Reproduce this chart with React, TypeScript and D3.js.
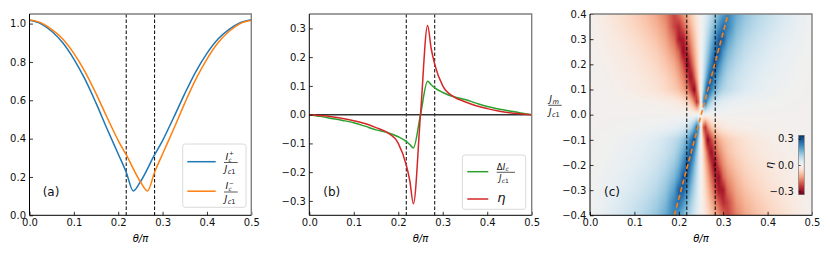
import { useEffect, useRef } from 'react';
import * as d3 from 'd3';

const FONT = '"DejaVu Sans", sans-serif';

const thetaTicks = [0, 0.1, 0.2, 0.3, 0.4, 0.5];
const markerTheta = [0.218, 0.282];

// (a) critical currents I_c^+ / J_c1 and I_c^- / J_c1
const thetaPlus = [0, 0.025, 0.05, 0.075, 0.1, 0.125, 0.15, 0.175, 0.2, 0.218, 0.234, 0.25, 0.282, 0.3, 0.325, 0.35, 0.375, 0.4, 0.425, 0.45, 0.475, 0.5];
const icPlus = [1.017, 1.0, 0.96, 0.9, 0.815, 0.71, 0.585, 0.45, 0.32, 0.225, 0.127, 0.175, 0.316, 0.39, 0.51, 0.635, 0.75, 0.845, 0.92, 0.97, 1.005, 1.02];
const thetaMinus = [0, 0.025, 0.05, 0.075, 0.1, 0.125, 0.15, 0.175, 0.2, 0.218, 0.25, 0.266, 0.282, 0.3, 0.325, 0.35, 0.375, 0.4, 0.425, 0.45, 0.475, 0.5];
const icMinus = [1.02, 1.005, 0.97, 0.92, 0.845, 0.75, 0.635, 0.51, 0.39, 0.316, 0.175, 0.127, 0.225, 0.32, 0.45, 0.585, 0.71, 0.815, 0.9, 0.96, 1.0, 1.017];

// (b) difference and efficiency
const thetaB = [0, 0.025, 0.05, 0.075, 0.1, 0.125, 0.15, 0.175, 0.2, 0.218, 0.226, 0.234, 0.25, 0.266, 0.274, 0.282, 0.3, 0.325, 0.35, 0.375, 0.4, 0.425, 0.45, 0.475, 0.5];
const deltaIc = [0, -0.006, -0.013, -0.02, -0.028, -0.04, -0.053, -0.062, -0.077, -0.093, -0.104, -0.116, 0, 0.116, 0.104, 0.093, 0.077, 0.062, 0.053, 0.04, 0.028, 0.02, 0.013, 0.006, 0];
const eta = [0, -0.003, -0.007, -0.013, -0.021, -0.031, -0.045, -0.062, -0.1, -0.175, -0.23, -0.31, 0, 0.31, 0.23, 0.175, 0.1, 0.062, 0.045, 0.031, 0.021, 0.013, 0.007, 0.003, 0];

// (c) eta map over theta (columns) and Jm/Jc1 (rows, top to bottom)
const mapTheta = [0, 0.025, 0.05, 0.075, 0.1, 0.125, 0.15, 0.17, 0.19, 0.2, 0.21, 0.22, 0.225, 0.23, 0.235, 0.24, 0.245, 0.25, 0.255, 0.26, 0.265, 0.27, 0.275, 0.28, 0.29, 0.3, 0.31, 0.33, 0.35, 0.375, 0.4, 0.425, 0.45, 0.475, 0.5];
const mapJm = [0.4, 0.35, 0.3, 0.25, 0.2, 0.15, 0.1, 0.05, 0, -0.05, -0.1, -0.15, -0.2, -0.25, -0.3, -0.35, -0.4];
const etaMap = [
  [-0.005, -0.022, -0.04, -0.058, -0.078, -0.1, -0.13, -0.17, -0.23, -0.192, -0.153, -0.115, -0.096, -0.077, -0.058, -0.038, -0.019, 0, 0.019, 0.038, 0.058, 0.077, 0.096, 0.115, 0.153, 0.192, 0.23, 0.17, 0.13, 0.1, 0.078, 0.058, 0.04, 0.022, 0.005],
  [-0.005, -0.019, -0.034, -0.05, -0.068, -0.088, -0.115, -0.15, -0.23, -0.257, -0.206, -0.154, -0.129, -0.103, -0.077, -0.051, -0.026, 0, 0.026, 0.051, 0.077, 0.103, 0.129, 0.154, 0.206, 0.257, 0.23, 0.15, 0.115, 0.088, 0.068, 0.05, 0.034, 0.019, 0.005],
  [-0.004, -0.014, -0.026, -0.039, -0.054, -0.072, -0.097, -0.13, -0.19, -0.28, -0.28, -0.2, -0.167, -0.133, -0.1, -0.067, -0.033, 0, 0.033, 0.067, 0.1, 0.133, 0.167, 0.2, 0.28, 0.28, 0.19, 0.13, 0.097, 0.072, 0.054, 0.039, 0.026, 0.014, 0.004],
  [-0.003, -0.01, -0.02, -0.031, -0.044, -0.06, -0.08, -0.11, -0.155, -0.2, -0.3, -0.248, -0.207, -0.165, -0.124, -0.083, -0.041, 0, 0.041, 0.083, 0.124, 0.165, 0.207, 0.248, 0.3, 0.2, 0.155, 0.11, 0.08, 0.06, 0.044, 0.031, 0.02, 0.01, 0.003],
  [-0.002, -0.007, -0.015, -0.024, -0.035, -0.048, -0.066, -0.09, -0.125, -0.16, -0.22, -0.31, -0.258, -0.207, -0.155, -0.103, -0.052, 0, 0.052, 0.103, 0.155, 0.207, 0.258, 0.31, 0.22, 0.16, 0.125, 0.09, 0.066, 0.048, 0.035, 0.024, 0.015, 0.007, 0.002],
  [-0.001, -0.005, -0.011, -0.018, -0.027, -0.039, -0.054, -0.072, -0.1, -0.13, -0.17, -0.23, -0.29, -0.276, -0.207, -0.138, -0.069, 0, 0.069, 0.138, 0.207, 0.276, 0.29, 0.23, 0.17, 0.13, 0.1, 0.072, 0.054, 0.039, 0.027, 0.018, 0.011, 0.005, 0.001],
  [0, -0.003, -0.007, -0.013, -0.021, -0.031, -0.045, -0.062, -0.085, -0.1, -0.13, -0.18, -0.215, -0.26, -0.31, -0.207, -0.103, 0, 0.103, 0.207, 0.31, 0.26, 0.215, 0.18, 0.13, 0.1, 0.085, 0.062, 0.045, 0.031, 0.021, 0.013, 0.007, 0.003, 0],
  [0, -0.001, -0.002, -0.004, -0.006, -0.009, -0.013, -0.018, -0.027, -0.035, -0.048, -0.07, -0.09, -0.12, -0.17, -0.25, -0.2, 0, 0.2, 0.25, 0.17, 0.12, 0.09, 0.07, 0.048, 0.035, 0.027, 0.018, 0.013, 0.009, 0.006, 0.004, 0.002, 0.001, 0],
  [0, 0, 0, 0, 0, 0, 0, 0, 0, 0, 0, 0, 0, 0, 0, 0, 0, 0, 0, 0, 0, 0, 0, 0, 0, 0, 0, 0, 0, 0, 0, 0, 0, 0, 0],
  [0, 0.001, 0.002, 0.004, 0.006, 0.009, 0.013, 0.018, 0.027, 0.035, 0.048, 0.07, 0.09, 0.12, 0.17, 0.25, 0.2, 0, -0.2, -0.25, -0.17, -0.12, -0.09, -0.07, -0.048, -0.035, -0.027, -0.018, -0.013, -0.009, -0.006, -0.004, -0.002, -0.001, 0],
  [0, 0.003, 0.007, 0.013, 0.021, 0.031, 0.045, 0.062, 0.085, 0.1, 0.13, 0.18, 0.215, 0.26, 0.31, 0.207, 0.103, 0, -0.103, -0.207, -0.31, -0.26, -0.215, -0.18, -0.13, -0.1, -0.085, -0.062, -0.045, -0.031, -0.021, -0.013, -0.007, -0.003, 0],
  [0.001, 0.005, 0.011, 0.018, 0.027, 0.039, 0.054, 0.072, 0.1, 0.13, 0.17, 0.23, 0.29, 0.276, 0.207, 0.138, 0.069, 0, -0.069, -0.138, -0.207, -0.276, -0.29, -0.23, -0.17, -0.13, -0.1, -0.072, -0.054, -0.039, -0.027, -0.018, -0.011, -0.005, -0.001],
  [0.002, 0.007, 0.015, 0.024, 0.035, 0.048, 0.066, 0.09, 0.125, 0.16, 0.22, 0.31, 0.258, 0.207, 0.155, 0.103, 0.052, 0, -0.052, -0.103, -0.155, -0.207, -0.258, -0.31, -0.22, -0.16, -0.125, -0.09, -0.066, -0.048, -0.035, -0.024, -0.015, -0.007, -0.002],
  [0.003, 0.01, 0.02, 0.031, 0.044, 0.06, 0.08, 0.11, 0.155, 0.2, 0.3, 0.248, 0.207, 0.165, 0.124, 0.083, 0.041, 0, -0.041, -0.083, -0.124, -0.165, -0.207, -0.248, -0.3, -0.2, -0.155, -0.11, -0.08, -0.06, -0.044, -0.031, -0.02, -0.01, -0.003],
  [0.004, 0.014, 0.026, 0.039, 0.054, 0.072, 0.097, 0.13, 0.19, 0.28, 0.28, 0.2, 0.167, 0.133, 0.1, 0.067, 0.033, 0, -0.033, -0.067, -0.1, -0.133, -0.167, -0.2, -0.28, -0.28, -0.19, -0.13, -0.097, -0.072, -0.054, -0.039, -0.026, -0.014, -0.004],
  [0.005, 0.019, 0.034, 0.05, 0.068, 0.088, 0.115, 0.15, 0.23, 0.257, 0.206, 0.154, 0.129, 0.103, 0.077, 0.051, 0.026, 0, -0.026, -0.051, -0.077, -0.103, -0.129, -0.154, -0.206, -0.257, -0.23, -0.15, -0.115, -0.088, -0.068, -0.05, -0.034, -0.019, -0.005],
  [0.005, 0.022, 0.04, 0.058, 0.078, 0.1, 0.13, 0.17, 0.23, 0.192, 0.153, 0.115, 0.096, 0.077, 0.058, 0.038, 0.019, 0, -0.019, -0.038, -0.058, -0.077, -0.096, -0.115, -0.153, -0.192, -0.23, -0.17, -0.13, -0.1, -0.078, -0.058, -0.04, -0.022, -0.005],
];
const guideTheta = [0.19, 0.311];
const guideJm = [-0.4, 0.4];

const aTicks = [0, 0.2, 0.4, 0.6, 0.8, 1.0];
const bTicks = [-0.3, -0.2, -0.1, 0, 0.1, 0.2, 0.3];
const cTicks = [-0.4, -0.3, -0.2, -0.1, 0, 0.1, 0.2, 0.3, 0.4];
const cbarTicks = [-0.3, 0, 0.3];

const TOP = 14;
const BOTTOM = 215.3;

type Sel = d3.Selection<any, unknown, null, undefined>;
type Lin = d3.ScaleLinear<number, number>;

function addAxes(svg: Sel, x: Lin, y: Lin, yTicks: number[]) {
  const [x0, x1] = x.range();
  const [yb, yt] = y.range();
  const fmt = d3.format('.1f');
  const ax = svg.append('g').attr('transform', `translate(0,${yb})`)
    .call(d3.axisBottom(x).tickValues(thetaTicks).tickSize(-3.5).tickPadding(3.5).tickFormat(d => fmt(d as number)));
  const ay = svg.append('g').attr('transform', `translate(${x0},0)`)
    .call(d3.axisLeft(y).tickValues(yTicks).tickSize(-3.5).tickPadding(3.5).tickFormat(d => fmt(d as number)));
  [ax, ay].forEach(a => {
    a.select('.domain').remove();
    a.attr('font-family', FONT).attr('font-size', 10);
    a.selectAll('line').attr('stroke', '#000').attr('stroke-width', 0.8);
    a.selectAll('text').attr('fill', '#111');
  });
  svg.append('path').attr('d', `M${x0},${yt}H${x1}V${yb}`)
    .attr('fill', 'none').attr('stroke', '#808080').attr('stroke-width', 1.4);
  svg.append('path').attr('d', `M${x0},${yt}V${yb}H${x1}`)
    .attr('fill', 'none').attr('stroke', '#000').attr('stroke-width', 1);
  svg.append('text').attr('x', (x0 + x1) / 2).attr('y', 242).attr('text-anchor', 'middle')
    .attr('font-family', FONT).attr('font-size', 10).attr('font-style', 'italic').text('θ/π');
}

function markers(svg: Sel, x: Lin, y: Lin) {
  const [yb, yt] = y.range();
  markerTheta.forEach(t => {
    svg.append('line').attr('x1', x(t)).attr('x2', x(t)).attr('y1', yt).attr('y2', yb)
      .attr('stroke', '#000').attr('stroke-width', 1).attr('stroke-dasharray', '3.5,2');
  });
}

// italic symbol with a subscript and an optional superscript
function sym(g: Sel, x: number, y: number, main: string, sub: string, sup: string | null, size: number, prefix = '') {
  const t = g.append('text').attr('x', x).attr('y', y).attr('font-family', FONT).attr('font-size', size).attr('fill', '#111');
  if (prefix) t.append('tspan').text(prefix);
  t.append('tspan').attr('font-style', 'italic').text(main);
  const w = (t.node() as SVGTextElement).getComputedTextLength();
  const small = size * (sup ? 0.6 : 0.7);
  const s = g.append('text').attr('x', x + w + 0.3).attr('y', y + size * 0.22)
    .attr('font-family', FONT).attr('font-size', small).attr('fill', '#111');
  s.append('tspan').attr('font-style', 'italic').text(sub.slice(0, 1));
  if (sub.length > 1) s.append('tspan').text(sub.slice(1));
  if (sup) {
    g.append('text').attr('x', x + w + 0.8).attr('y', y - size * 0.5)
      .attr('font-family', FONT).attr('font-size', small).attr('fill', '#111').text(sup);
  }
}

function bar(g: Sel, x0: number, x1: number, y: number) {
  g.append('line').attr('x1', x0).attr('x2', x1).attr('y1', y).attr('y2', y).attr('stroke', '#111').attr('stroke-width', 0.7);
}

function legendBox(g: Sel, x: number, y: number, w: number, h: number) {
  g.append('rect').attr('x', x).attr('y', y).attr('width', w).attr('height', h).attr('rx', 2.5)
    .attr('fill', '#fff').attr('fill-opacity', 0.8).attr('stroke', '#d0d0d0').attr('stroke-width', 0.8);
}

function panelLabel(g: Sel, x: number, text: string) {
  g.append('text').attr('x', x).attr('y', 195.5).attr('font-family', FONT).attr('font-size', 12).attr('fill', '#111').text(text);
}

function drawA(svg: Sel) {
  const x = d3.scaleLinear().domain([0, 0.5]).range([29.5, 251.3]);
  const y = d3.scaleLinear().domain([0, 1.05]).range([BOTTOM, TOP]);
  markers(svg, x, y);
  const series = [
    { th: thetaPlus, v: icPlus, color: '#1f77b4' },
    { th: thetaMinus, v: icMinus, color: '#ff7f0e' },
  ];
  series.forEach(s => {
    const line = d3.line<number>().x((_, i) => x(s.th[i])).y(d => y(d)).curve(d3.curveMonotoneX);
    svg.append('path').attr('d', line(s.v)).attr('fill', 'none').attr('stroke', s.color).attr('stroke-width', 1.5);
  });
  addAxes(svg, x, y, aTicks);
  legendBox(svg, 182.7, 144, 63.3, 63.3);
  const rows = [
    { cy: 162.5, color: '#1f77b4', sign: '+' },
    { cy: 192, color: '#ff7f0e', sign: '\u2212' },
  ];
  rows.forEach(r => {
    svg.append('line').attr('x1', 187.3).attr('x2', 215.7).attr('y1', r.cy - 0.8).attr('y2', r.cy - 0.8)
      .attr('stroke', r.color).attr('stroke-width', 1.5);
    sym(svg, 225.5, r.cy - 2.6, 'I', 'c', r.sign, 9.5);
    bar(svg, 224, 237.7, r.cy);
    sym(svg, 224.6, r.cy + 9.6, 'J', 'c1', null, 9.5);
  });
  panelLabel(svg, 42.7, '(a)');
}

function drawB(svg: Sel) {
  const x = d3.scaleLinear().domain([0, 0.5]).range([309.3, 531.7]);
  const y = d3.scaleLinear().domain([-0.35, 0.35]).range([BOTTOM, TOP]);
  markers(svg, x, y);
  svg.append('line').attr('x1', x(0)).attr('x2', x(0.5)).attr('y1', y(0)).attr('y2', y(0))
    .attr('stroke', '#333').attr('stroke-width', 1.5);
  const series = [
    { v: deltaIc, color: '#2ca02c' },
    { v: eta, color: '#d62728' },
  ];
  series.forEach(s => {
    const line = d3.line<number>().x((_, i) => x(thetaB[i])).y(d => y(d)).curve(d3.curveMonotoneX);
    svg.append('path').attr('d', line(s.v)).attr('fill', 'none').attr('stroke', s.color).attr('stroke-width', 1.5);
  });
  addAxes(svg, x, y, bTicks);
  legendBox(svg, 462.3, 155, 63.4, 54.3);
  svg.append('line').attr('x1', 467.3).attr('x2', 488.3).attr('y1', 171.7).attr('y2', 171.7)
    .attr('stroke', '#2ca02c').attr('stroke-width', 1.5);
  svg.append('line').attr('x1', 467.3).attr('x2', 488.3).attr('y1', 199).attr('y2', 199)
    .attr('stroke', '#d62728').attr('stroke-width', 1.5);
  sym(svg, 496.8, 169.6, 'I', 'c', null, 8.5, 'Δ');
  bar(svg, 496.7, 515, 172.3);
  sym(svg, 499, 181.2, 'J', 'c1', null, 8.5);
  svg.append('text').attr('x', 497.3).attr('y', 201.5).attr('font-family', FONT).attr('font-size', 13)
    .attr('font-style', 'italic').attr('fill', '#111').text('η');
  panelLabel(svg, 323.3, '(b)');
}

function drawC(svg: Sel) {
  const x = d3.scaleLinear().domain([0, 0.5]).range([590, 812]);
  const y = d3.scaleLinear().domain([-0.4, 0.4]).range([BOTTOM, TOP]);
  const color = d3.scaleSequential(d3.interpolateRdBu).domain([-0.34, 0.34]).clamp(true);

  const [x0, x1] = x.range();
  const [yb, yt] = y.range();
  const W = Math.round(x1 - x0);
  const H = Math.round(yb - yt);
  const canvas = document.createElement('canvas');
  canvas.width = W;
  canvas.height = H;
  const ctx = canvas.getContext('2d');
  if (ctx) {
    const img = ctx.createImageData(W, H);
    const nc = mapTheta.length;
    for (let py = 0; py < H; py++) {
      const jm = y.invert(yt + ((py + 0.5) * (yb - yt)) / H);
      let r = 0;
      while (r < mapJm.length - 2 && mapJm[r + 1] > jm) r++;
      const tr = Math.max(0, Math.min(1, (mapJm[r] - jm) / (mapJm[r] - mapJm[r + 1])));
      for (let px = 0; px < W; px++) {
        const th = x.invert(x0 + ((px + 0.5) * (x1 - x0)) / W);
        const c = Math.max(0, Math.min(nc - 2, d3.bisectRight(mapTheta, th) - 1));
        const tc = Math.max(0, Math.min(1, (th - mapTheta[c]) / (mapTheta[c + 1] - mapTheta[c])));
        const top = etaMap[r][c] * (1 - tc) + etaMap[r][c + 1] * tc;
        const bot = etaMap[r + 1][c] * (1 - tc) + etaMap[r + 1][c + 1] * tc;
        const rgb = d3.rgb(color(top * (1 - tr) + bot * tr));
        const k = (py * W + px) * 4;
        img.data[k] = rgb.r;
        img.data[k + 1] = rgb.g;
        img.data[k + 2] = rgb.b;
        img.data[k + 3] = 255;
      }
    }
    ctx.putImageData(img, 0, 0);
    svg.append('image').attr('href', canvas.toDataURL()).attr('x', x0).attr('y', yt)
      .attr('width', x1 - x0).attr('height', yb - yt).attr('preserveAspectRatio', 'none');
  }

  markers(svg, x, y);
  const guide = d3.line<number>().x((_, i) => x(guideTheta[i])).y(d => y(d));
  svg.append('path').attr('d', guide(guideJm)).attr('fill', 'none').attr('stroke', '#ff7f0e')
    .attr('stroke-width', 1.6).attr('stroke-dasharray', '5,3');
  addAxes(svg, x, y, cTicks);

  // y label Jm / Jc1
  sym(svg, 549.3, 102, 'J', 'm', null, 9.5);
  bar(svg, 548.3, 561.7, 105.3);
  sym(svg, 548.8, 114.6, 'J', 'c1', null, 9.5);

  // colorbar
  const cb = d3.scaleLinear().domain([-0.34, 0.34]).range([194.7, 135.3]);
  const defs = svg.append('defs');
  const grad = defs.append('linearGradient').attr('id', 'rdbu-bar')
    .attr('x1', 0).attr('y1', 1).attr('x2', 0).attr('y2', 0);
  d3.range(0, 1.0001, 0.05).forEach(t => {
    grad.append('stop').attr('offset', t).attr('stop-color', d3.interpolateRdBu(t));
  });
  svg.append('rect').attr('x', 798.7).attr('y', 135.3).attr('width', 5.5).attr('height', 59.4)
    .attr('fill', 'url(#rdbu-bar)').attr('stroke', '#666').attr('stroke-width', 0.6);
  const ca = svg.append('g').attr('transform', 'translate(798.7,0)')
    .call(d3.axisLeft(cb).tickValues(cbarTicks).tickSize(-2).tickPadding(4.8).tickFormat(d => d3.format('.1f')(d as number)));
  ca.select('.domain').remove();
  ca.attr('font-family', FONT).attr('font-size', 10);
  ca.selectAll('line').attr('stroke', '#000').attr('stroke-width', 0.7);
  ca.selectAll('text').attr('fill', '#111');
  svg.append('text').attr('transform', 'translate(773,165.3) rotate(-90)').attr('text-anchor', 'middle')
    .attr('font-family', FONT).attr('font-size', 11).attr('font-style', 'italic').attr('fill', '#111').text('η');

  panelLabel(svg, 604, '(c)');
}

export default function App() {
  const svgRef = useRef<SVGSVGElement | null>(null);

  useEffect(() => {
    const node = svgRef.current;
    if (!node) return undefined;
    const svg = d3.select(node) as unknown as Sel;
    svg.selectAll('*').remove();
    drawA(svg);
    drawB(svg);
    drawC(svg);
    return () => {
      svg.selectAll('*').remove();
    };
  }, []);

  return (
    <svg
      ref={svgRef}
      width={830}
      height={256}
      style={{ position: 'absolute', left: 0, top: 0, background: '#fff' }}
    />
  );
}
